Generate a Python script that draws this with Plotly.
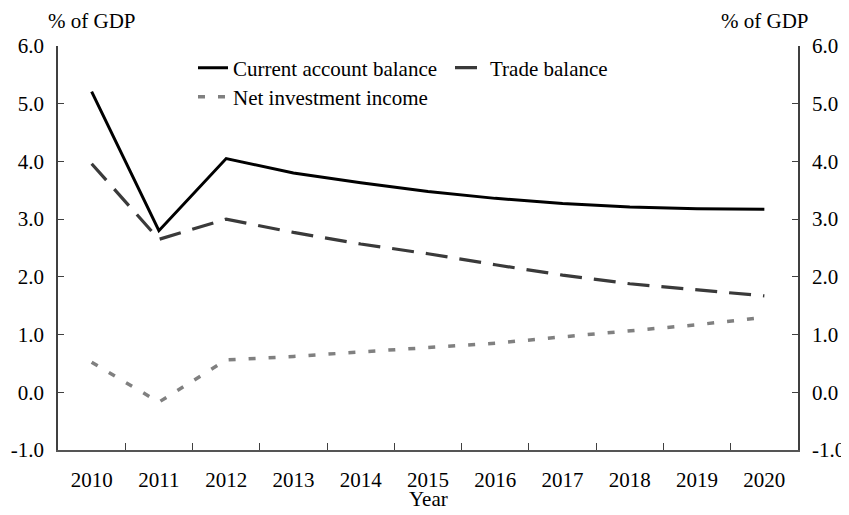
import plotly.graph_objects as go

years = ["2010", "2011", "2012", "2013", "2014", "2015", "2016", "2017", "2018", "2019", "2020"]
current_account = [5.21, 2.80, 4.05, 3.80, 3.63, 3.48, 3.36, 3.27, 3.21, 3.18, 3.17]
trade_balance = [3.96, 2.65, 3.00, 2.77, 2.57, 2.40, 2.21, 2.03, 1.88, 1.78, 1.67]
net_investment_income = [0.52, -0.17, 0.56, 0.62, 0.70, 0.77, 0.85, 0.96, 1.07, 1.17, 1.30]
y_ticks = [-1, 0, 1, 2, 3, 4, 5, 6]
y_tick_text = ["-1.0", "0.0", "1.0", "2.0", "3.0", "4.0", "5.0", "6.0"]

FONT = "Liberation Serif"
FS = 21
AX = "#404040"

fig = go.Figure()
fig.add_trace(go.Scatter(x=years, y=current_account, mode="lines", name="Current account balance",
                         line=dict(color="black", width=3), legend="legend"))
fig.add_trace(go.Scatter(x=years, y=trade_balance, mode="lines", name="Trade balance",
                         line=dict(color="#3a3a3a", width=3.2, dash="22px,12px"), legend="legend2"))
fig.add_trace(go.Scatter(x=years, y=net_investment_income, mode="lines", name="Net investment income",
                         line=dict(color="#808080", width=3.5, dash="7px,13px"), legend="legend3"))
# transparent copy on the right-hand axis so that axis is drawn
fig.add_trace(go.Scatter(x=years, y=current_account, mode="lines", yaxis="y2", showlegend=False,
                         hoverinfo="skip", line=dict(color="rgba(0,0,0,0)", width=0)))

# page body has an 8px margin, so the figure is sized to fit the 849x515 window
OFF = 8
W, H = 849 - OFF, 515 - OFF
L, R, T, B = 50, 51, 38, 65
pw = W - L - R
ph = H - T - B

def px(x):  # screen pixel -> paper
    return (x - OFF - L) / pw

def py(y):
    return 1 - (y - OFF - T) / ph

leg_common = dict(bgcolor="rgba(0,0,0,0)", font=dict(family=FONT, size=FS, color="black"),
                  xanchor="left", yanchor="middle", orientation="v", itemwidth=30)

fig.update_layout(
    width=W, height=H,
    margin=dict(l=L, r=R, t=T, b=B, autoexpand=False),
    paper_bgcolor="white", plot_bgcolor="white",
    font=dict(family=FONT, size=FS, color="black"),
    showlegend=True,
    legend=dict(x=px(193), y=py(68), **leg_common),
    legend2=dict(x=px(450), y=py(68), **leg_common),
    legend3=dict(x=px(193), y=py(97), **leg_common),
    xaxis=dict(
        type="category", range=[-0.5, 10.5], automargin=False,
        showline=True, linecolor="#555555", linewidth=1.8,
        ticks="inside", ticklen=7, tickcolor=AX, tickwidth=1.2,
        tickson="boundaries", showgrid=False, zeroline=False,
        ticklabelstandoff=10,
    ),
    yaxis=dict(
        range=[-1, 6], tickvals=y_ticks, ticktext=y_tick_text, automargin=False,
        showline=True, linecolor=AX, linewidth=1.5,
        ticks="inside", ticklen=6, tickcolor=AX, tickwidth=1.2,
        showgrid=False, zeroline=False, ticklabelstandoff=8,
    ),
    yaxis2=dict(
        range=[-1, 6], tickvals=y_ticks, ticktext=y_tick_text, automargin=False,
        overlaying="y", side="right", anchor="x",
        showline=True, linecolor=AX, linewidth=1.5,
        ticks="inside", ticklen=6, tickcolor=AX, tickwidth=1.2,
        showgrid=False, zeroline=False, ticklabelstandoff=8,
    ),
    annotations=[
        dict(text="% of GDP", xref="paper", yref="paper", x=px(46), y=py(21),
             xanchor="left", yanchor="middle", showarrow=False, font=dict(family=FONT, size=FS)),
        dict(text="% of GDP", xref="paper", yref="paper", x=px(811), y=py(21),
             xanchor="right", yanchor="middle", showarrow=False, font=dict(family=FONT, size=FS)),
        dict(text="Year", xref="paper", yref="paper", x=0.5, y=py(499),
             xanchor="center", yanchor="middle", showarrow=False, font=dict(family=FONT, size=FS)),
    ],
)

fig.write_html("out.html")
